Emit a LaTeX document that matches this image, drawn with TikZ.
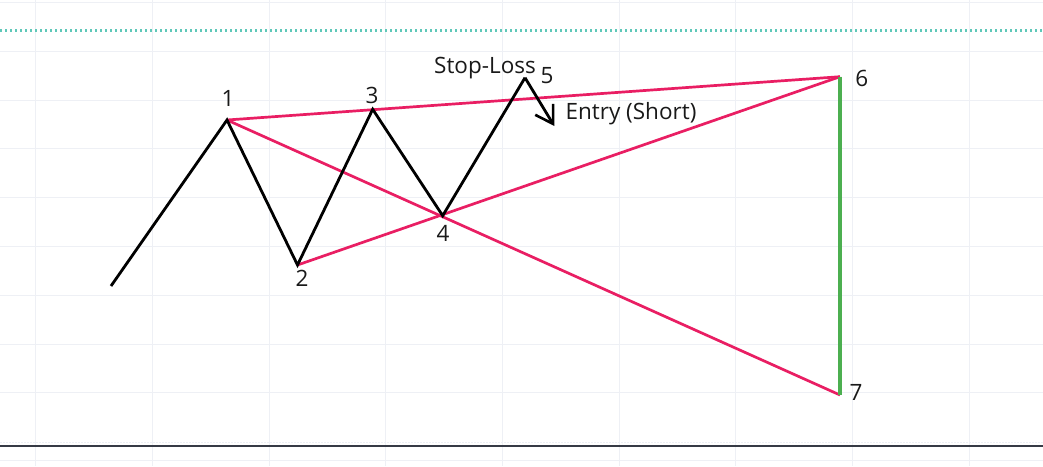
\documentclass[tikz,border=0pt]{standalone}
\usepackage{fontspec}
\setmainfont{Open Sans}
\usetikzlibrary{arrows.meta}
\definecolor{gridc}{RGB}{238,240,245}
\definecolor{teal}{RGB}{95,200,185}
\definecolor{pinkc}{RGB}{233,30,99}
\definecolor{greenc}{RGB}{76,175,80}
\definecolor{darkc}{RGB}{54,58,69}
\tikzset{
  wave/.style={black,line width=2.8pt,line join=miter},
  pinkline/.style={pinkc,line width=2.7pt},
  greenline/.style={greenc,line width=3.5pt},
  lbl/.style={font=\fontsize{22.5}{26}\selectfont,inner sep=0pt,text=black!90},
  pt/.style={coordinate}
}
\begin{document}
\begin{tikzpicture}[x=1pt,y=-1pt]
\useasboundingbox (0,0) rectangle (1043,466);
\fill[white] (0,0) rectangle (1043,466);
% grid
\foreach \gx in {35.7,152.3,269,385.7,502.3,619,735.7,852.3,969}
  \draw[gridc,line width=0.8pt] (\gx,0) -- (\gx,466);
\foreach \gy in {2.7,51.3,100,148.8,197.6,246.4,295.2,344,392.8,460}
  \draw[gridc,line width=0.8pt] (0,\gy) -- (1043,\gy);
% dotted teal line
\draw[teal,line width=3pt,dash pattern=on 2pt off 3pt] (0,30.7) -- (1043,30.7);
% faint line above the dark axis
\draw[gridc,line width=1pt,dash pattern=on 2pt off 1pt] (0,442.5) -- (1043,442.5);
\draw[darkc,line width=1.6pt] (0,446) -- (1043,446);
% points
\coordinate (s) at (111,286);
\coordinate (p1) at (227,120);
\coordinate (p2) at (297.5,265);
\coordinate (p3) at (372.7,109.3);
\coordinate (p4) at (442.7,215.7);
\coordinate (p5) at (525,77.7);
\coordinate (e) at (554.3,126);
\coordinate (p6) at (840,76.7);
\coordinate (p7) at (840,395);
% pink lines
\draw[pinkline] (p1) -- (p6);
\draw[pinkline] (p1) -- (p7);
\draw[pinkline] (p2) -- (p6);
\draw[greenline] (p6) -- (p7);
% wave
\draw[wave] (s) -- (p1) -- (p2) -- (p3) -- (p4) -- (p5);
\draw[wave,-{Straight Barb[length=17pt,width=21pt,line width=2.6pt]}] (p5) -- (e);
% labels
\node[lbl] (l1) at (228,98) {1};
\node[lbl] (l2) at (302,278.5) {2};
\node[lbl] (l3) at (372,95) {3};
\node[lbl] (l4) at (443,233.5) {4};
\node[lbl] (l5) at (547,76) {5};
\node[lbl] (l6) at (861.7,78) {6};
\node[lbl] (l7) at (856,392) {7};
\node[lbl] (sl) at (485,68.3) {Stop-Loss};
\node[lbl] (en) at (631,113.5) {Entry (Short)};
\end{tikzpicture}
\end{document}
